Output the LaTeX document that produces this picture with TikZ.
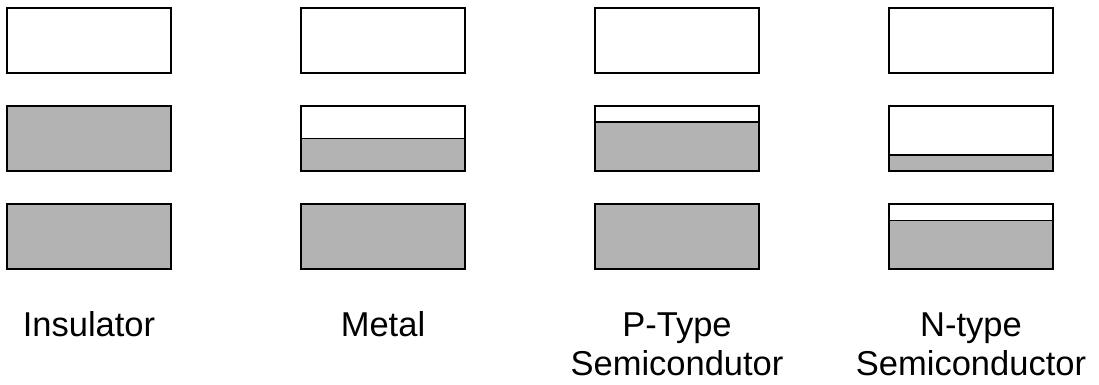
\documentclass[tikz,border=0pt]{standalone}
\usepackage{fontspec}
\setmainfont{Liberation Sans}
\usepackage{tikz}
\usetikzlibrary{positioning}

\definecolor{bandgray}{HTML}{B3B3B3}

\begin{document}
\begin{tikzpicture}[x=1pt, y=-1pt,
        band/.style={draw=black, line width=1.6pt},
        filled/.style={fill=bandgray},
        caption/.style={font=\fontsize{34.5}{39.5}\selectfont, align=center, anchor=base, inner sep=0pt}]
        \useasboundingbox (0, 0) rectangle (1099, 385);

        % columns: left edge / top of filling in middle band / top of filling in lower band
        \foreach \x/\mid/\low in {7/106/204, 301/138.5/204, 595/122/204, 889/155/220.5} {
                \draw[band] (\x, 8) rectangle ++(164, 65);
                \fill[filled] (\x, \mid) rectangle (\x+164, 171);
                \draw[band] (\x, 106) rectangle ++(164, 65);
                \draw[band] (\x, \mid) -- ++(164, 0);
                \fill[filled] (\x, \low) rectangle (\x+164, 269);
                \draw[band] (\x, 204) rectangle ++(164, 65);
                \draw[band] (\x, \low) -- ++(164, 0);
        }

        \node[caption] (insulator) at (89, 336) {Insulator};
        \node[caption] (metal) at (383, 336) {Metal};
        % two-line captions sit on the baseline of their last line
        \node[caption] (ptype) at (677, 375.5) {P-Type\\Semicondutor};
        \node[caption] (ntype) at (971, 375.5) {N-type\\Semiconductor};
\end{tikzpicture}
\end{document}
